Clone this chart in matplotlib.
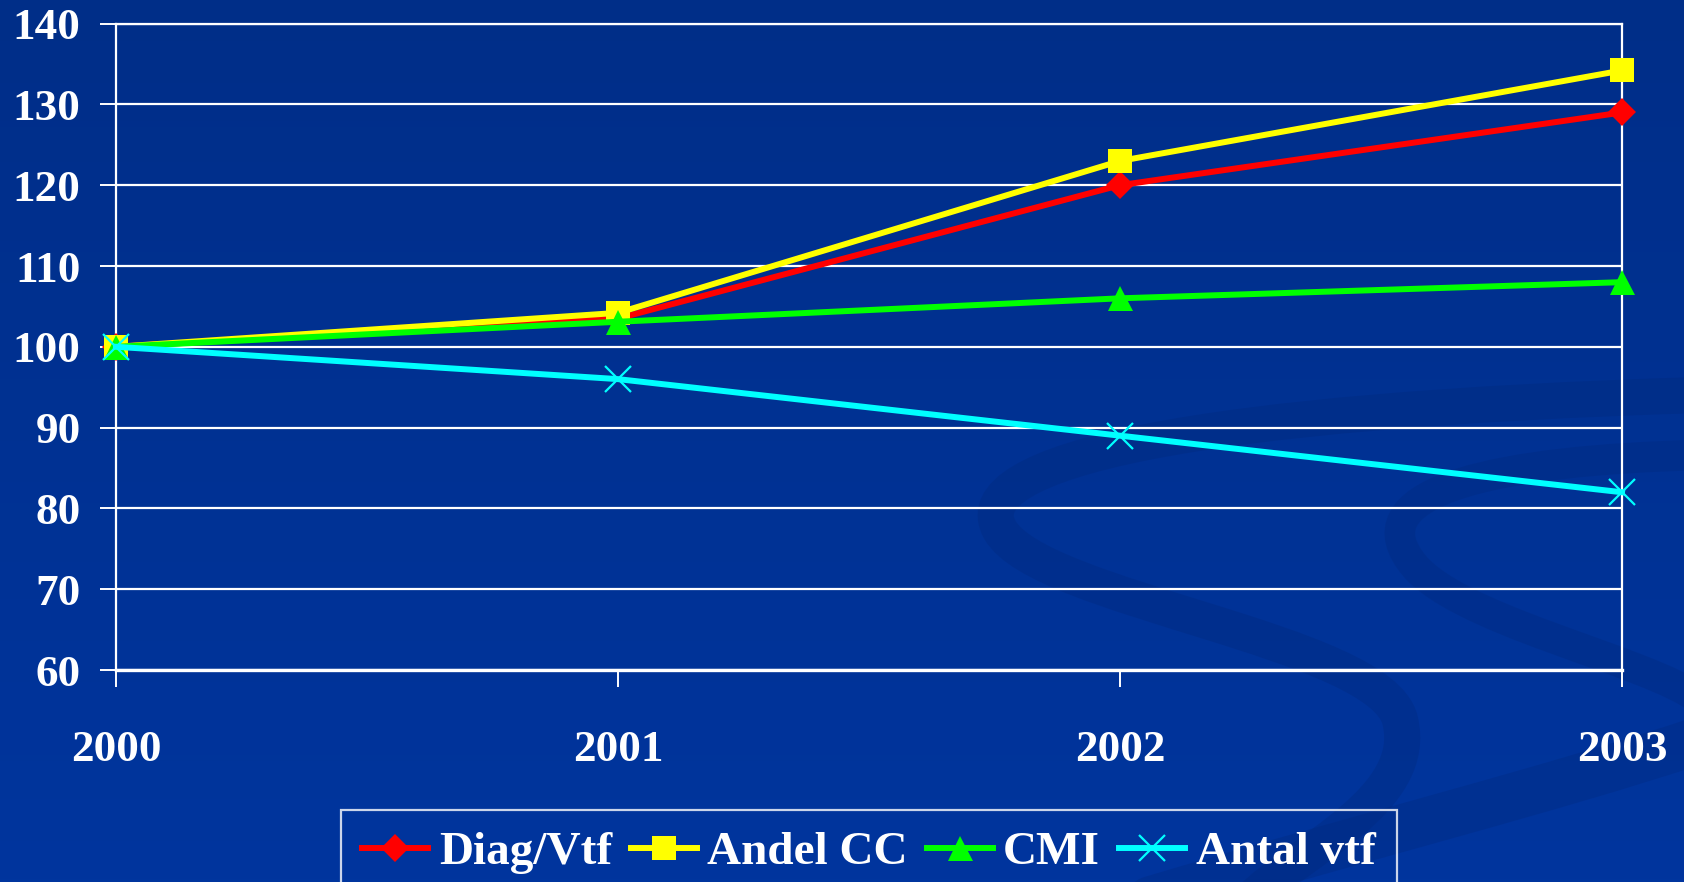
import numpy as np
import matplotlib
matplotlib.use("Agg")
import matplotlib.pyplot as plt
from matplotlib.path import Path
from matplotlib.patches import PathPatch

# ---- data ----
years = ["2000", "2001", "2002", "2003"]
diag_vtf = [100, 103.5, 120, 129]
andel_cc = [100, 104.2, 123, 134.2]
cmi = [100, 103.1, 106, 108]
antal_vtf = [100, 96, 89, 82]
y_ticks = [60, 70, 80, 90, 100, 110, 120, 130, 140]

series = [
    ("Diag/Vtf", diag_vtf, "#FF0000", "D", 14, 0),
    ("Andel CC", andel_cc, "#FFFF00", "s", 17.5, 0),
    ("CMI", cmi, "#00FF00", "^", 18, 0),
    ("Antal vtf", antal_vtf, "#00FFFF", "x", 19, 1.6),
]

W, H = 1684, 882
fig = plt.figure(figsize=(W / 100, H / 100), dpi=100)
plt.rcParams['font.family'] = ['Liberation Serif', 'DejaVu Serif']

# ---- background ----
bg = fig.add_axes([0, 0, 1, 1], zorder=0)
grad = np.linspace(0, 1, 256).reshape(-1, 1)
top = np.array([0x00, 0x2E, 0x88]) / 255
bot = np.array([0x00, 0x35, 0x9E]) / 255
img = top + (bot - top) * grad[..., None].reshape(-1, 1, 1) * np.ones((1, 2, 1))
bg.imshow(img, aspect="auto", extent=[0, W, H, 0])
bg.set_xlim(0, W)
bg.set_ylim(H, 0)
bg.axis("off")

def swoosh(pts, lw, alpha):
    codes = [Path.MOVETO] + [Path.CURVE4] * (len(pts) - 1)
    p = PathPatch(Path(pts, codes), fill=False, lw=lw, ec="#00287A", alpha=alpha,
                  capstyle="round")
    bg.add_patch(p)

swoosh([(1700, 395), (1200, 410), (960, 460), (1000, 530),
        (1040, 600), (1380, 640), (1400, 720),
        (1420, 800), (1300, 850), (1250, 900)], 26, 0.32)
swoosh([(1700, 455), (1500, 460), (1360, 490), (1410, 560),
        (1450, 620), (1650, 660), (1700, 700)], 22, 0.3)
swoosh([(1150, 900), (1350, 840), (1550, 790), (1700, 740)], 34, 0.3)

# ---- main axes ----
ax = fig.add_axes([116 / W, 1 - 670 / H, (1622 - 116) / W, (670 - 23.6) / H], zorder=2)
ax.set_facecolor("none")
x = np.arange(len(years))
for name, vals, col, mk, ms, mew in series:
    ax.plot(x, vals, color=col, lw=4.3, marker=mk, markersize=ms,
            markerfacecolor=col, markeredgecolor=col, markeredgewidth=mew,
            label=name, clip_on=False, zorder=3)

ax.set_xlim(0, 3)
ax.set_ylim(60, 140)
ax.set_yticks(y_ticks)
ax.set_xticks(x)
ax.set_xticklabels(years)
ax.grid(axis="y", color="white", lw=1.6, zorder=1)
ax.set_axisbelow(True)
for side in ["left", "right", "bottom", "top"]:
    ax.spines[side].set_color("white")
    ax.spines[side].set_linewidth(1.6)
ax.spines["bottom"].set_linewidth(2.4)

ax.tick_params(axis="y", length=11.5, width=1.4, color="white", pad=14,
               labelsize=32.5, labelcolor="white", direction="out")
ax.tick_params(axis="x", length=12, width=1.4, color="white", pad=31,
               labelsize=32.5, labelcolor="white", direction="out")
for lab in ax.get_xticklabels() + ax.get_yticklabels():
    lab.set_fontweight("bold")

leg = fig.legend(loc="upper left", bbox_to_anchor=(341 / W, 1 - 810 / H),
                 ncol=4, frameon=True, fancybox=False, fontsize=34,
                 handlelength=1.4, handletextpad=0.22, columnspacing=0.4,
                 borderpad=0.45, borderaxespad=0)
leg.get_frame().set_facecolor("none")
leg.get_frame().set_edgecolor("white")
leg.get_frame().set_linewidth(1.6)
for t in leg.get_texts():
    t.set_color("white")
    t.set_fontweight("bold")
leg.set_zorder(5)

fig.savefig("out.png", dpi=100)
